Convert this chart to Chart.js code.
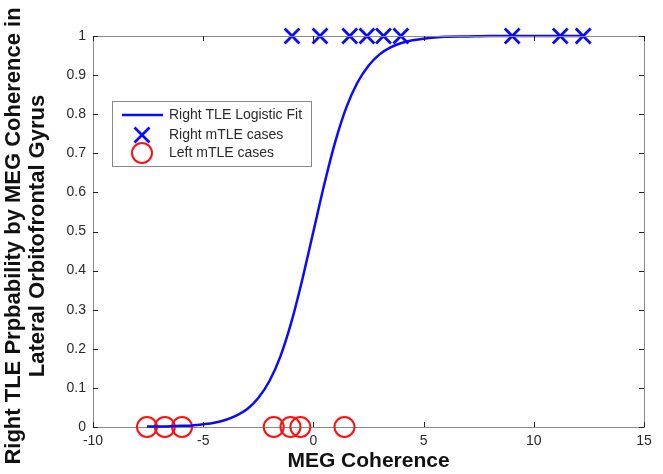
<!DOCTYPE html>
<html>
<head>
<meta charset="utf-8">
<script src="https://cdn.jsdelivr.net/npm/chart.js@4"></script>
<style>
  html, body { margin: 0; padding: 0; background: #fff; }
  #wrap { width: 663px; height: 474px; position: relative; }
</style>
</head>
<body>
<div id="wrap"><canvas id="chart" width="663" height="474"></canvas></div>
<script>
// logistic fit, sampled along the curve
const fitX = [-7.55, -7, -6.5, -6, -5.5, -5, -4.5, -4, -3.5, -3, -2.5, -2, -1.5, -1, -0.5, 0,
  0.5, 1, 1.5, 2, 2.5, 3, 3.5, 4, 4.5, 5, 5.5, 6, 7, 8, 10, 12.24];
const fitP = [0.001, 0.001, 0.002, 0.003, 0.004, 0.007, 0.011, 0.018, 0.029, 0.046, 0.074, 0.117, 0.18, 0.268, 0.378, 0.5,
  0.622, 0.731, 0.818, 0.881, 0.924, 0.953, 0.971, 0.982, 0.989, 0.993, 0.996, 0.998, 0.999, 1, 1, 1];

// right mTLE cases (class 1)
const rightX = [-0.97, 0.3, 1.65, 2.43, 3.18, 3.97, 9.02, 11.2, 12.24];
const rightP = [1, 1, 1, 1, 1, 1, 1, 1, 1];

// left mTLE cases (class 0)
const leftX = [-7.55, -6.74, -5.96, -1.8, -1.04, -0.59, 1.41];
const leftP = [0, 0, 0, 0, 0, 0, 0];

const xTicks = [-10, -5, 0, 5, 10, 15];
const yTicks = [0, 0.1, 0.2, 0.3, 0.4, 0.5, 0.6, 0.7, 0.8, 0.9, 1];
const yTickLabels = ['0', '0.1', '0.2', '0.3', '0.4', '0.5', '0.6', '0.7', '0.8', '0.9', '1'];

const legendLabels = ['Right TLE Logistic Fit', 'Right mTLE cases', 'Left mTLE cases'];
const xTitle = 'MEG Coherence';
const yTitle = ['Right TLE Prpbability by MEG Coherence in', 'Lateral Orbitofrontal Gyrus'];

const FONT = "'Liberation Sans', Arial, sans-serif";
const BLUE = '#0a0aff';
const RED = '#ff1010';
const AXIS = '#8a8a8a';
const TEXT = '#2a2a2a';

const toPoints = (xs, ys) => xs.map((x, i) => ({ x, y: ys[i] }));

// MATLAB-style box: top/right edges plus inward tick marks on all sides
const boxPlugin = {
  id: 'box',
  afterDraw(chart) {
    const { ctx, chartArea: a, scales } = chart;
    ctx.save();
    ctx.strokeStyle = AXIS;
    ctx.lineWidth = 1;
    ctx.beginPath();
    ctx.moveTo(a.left, a.top + 0.5);
    ctx.lineTo(a.right + 0.5, a.top + 0.5);
    ctx.lineTo(a.right + 0.5, a.bottom);
    ctx.stroke();

    ctx.strokeStyle = '#222';
    ctx.beginPath();
    xTicks.forEach((v) => {
      const px = Math.round(scales.x.getPixelForValue(v)) + 0.5;
      ctx.moveTo(px, a.bottom);
      ctx.lineTo(px, a.bottom - 5);
      ctx.moveTo(px, a.top);
      ctx.lineTo(px, a.top + 5);
    });
    yTicks.forEach((v) => {
      const py = Math.round(scales.y.getPixelForValue(v)) + 0.5;
      ctx.moveTo(a.left, py);
      ctx.lineTo(a.left + 5, py);
      ctx.moveTo(a.right, py);
      ctx.lineTo(a.right - 5, py);
    });
    ctx.stroke();
    ctx.restore();
  },
};

// two-line y title, sitting a little below the plot's middle
const yTitlePlugin = {
  id: 'yTitle',
  afterDraw(chart) {
    const { ctx } = chart;
    ctx.save();
    ctx.translate(14, 236);
    ctx.rotate(-Math.PI / 2);
    ctx.fillStyle = '#111';
    ctx.font = 'bold 22px ' + FONT;
    ctx.textAlign = 'center';
    ctx.textBaseline = 'middle';
    yTitle.forEach((t, i) => ctx.fillText(t, 0, i * 24));
    ctx.restore();
  },
};

// legend box in the upper left of the plot
const legendPlugin = {
  id: 'insideLegend',
  afterDraw(chart) {
    const { ctx } = chart;
    const box = { x: 112.5, y: 101.5, w: 199, h: 65 };
    const rows = [115, 135, 153];
    ctx.save();
    ctx.fillStyle = '#fff';
    ctx.fillRect(box.x, box.y, box.w, box.h);
    ctx.strokeStyle = AXIS;
    ctx.lineWidth = 1;
    ctx.strokeRect(box.x, box.y, box.w, box.h);

    ctx.strokeStyle = BLUE;
    ctx.lineWidth = 2.5;
    ctx.beginPath();
    ctx.moveTo(122, rows[0]);
    ctx.lineTo(163, rows[0]);
    ctx.stroke();

    ctx.lineWidth = 2.8;
    ctx.beginPath();
    ctx.moveTo(142 - 7.5, rows[1] - 7.5);
    ctx.lineTo(142 + 7.5, rows[1] + 7.5);
    ctx.moveTo(142 + 7.5, rows[1] - 7.5);
    ctx.lineTo(142 - 7.5, rows[1] + 7.5);
    ctx.stroke();

    ctx.strokeStyle = RED;
    ctx.lineWidth = 2;
    ctx.beginPath();
    ctx.arc(142, rows[2], 10, 0, Math.PI * 2);
    ctx.stroke();

    ctx.fillStyle = TEXT;
    ctx.font = '14px ' + FONT;
    ctx.textBaseline = 'middle';
    legendLabels.forEach((t, i) => ctx.fillText(t, 169, rows[i]));
    ctx.restore();
  },
};

new Chart(document.getElementById('chart'), {
  type: 'scatter',
  data: {
    datasets: [
      {
        label: legendLabels[0],
        data: toPoints(fitX, fitP),
        showLine: true,
        borderColor: BLUE,
        borderWidth: 2.5,
        pointRadius: 0,
        cubicInterpolationMode: 'monotone',
        clip: false,
      },
      {
        label: legendLabels[1],
        data: toPoints(rightX, rightP),
        pointStyle: 'crossRot',
        pointRadius: 10.5,
        borderColor: BLUE,
        borderWidth: 2.8,
        clip: false,
      },
      {
        label: legendLabels[2],
        data: toPoints(leftX, leftP),
        pointStyle: 'circle',
        pointRadius: 10,
        borderColor: RED,
        backgroundColor: 'rgba(0,0,0,0)',
        borderWidth: 2,
        clip: false,
      },
    ],
  },
  options: {
    responsive: false,
    animation: false,
    layout: { padding: { left: 0, top: 36, right: 19, bottom: 0 } },
    plugins: { legend: { display: false }, tooltip: { enabled: false } },
    scales: {
      x: {
        type: 'linear',
        min: -10,
        max: 15,
        afterBuildTicks: (s) => { s.ticks = xTicks.map((v) => ({ value: v })); },
        afterFit: (s) => { s.height = 47; },
        grid: { display: false, drawTicks: false },
        border: { color: AXIS },
        ticks: { color: TEXT, padding: 6, font: { size: 14, family: FONT } },
        title: {
          display: true,
          text: xTitle,
          color: '#111',
          padding: { top: 0, bottom: 0 },
          font: { size: 21, weight: 'bold', family: FONT },
        },
      },
      y: {
        type: 'linear',
        min: 0,
        max: 1,
        afterBuildTicks: (s) => { s.ticks = yTicks.map((v) => ({ value: v })); },
        afterFit: (s) => { s.width = 93; },
        grid: { display: false, drawTicks: false },
        border: { color: AXIS },
        ticks: {
          color: TEXT,
          padding: 7,
          font: { size: 14, family: FONT },
          callback: (v) => yTickLabels[yTicks.indexOf(v)] ?? String(v),
        },
        title: { display: false },
      },
    },
  },
  plugins: [boxPlugin, yTitlePlugin, legendPlugin],
});
</script>
</body>
</html>
